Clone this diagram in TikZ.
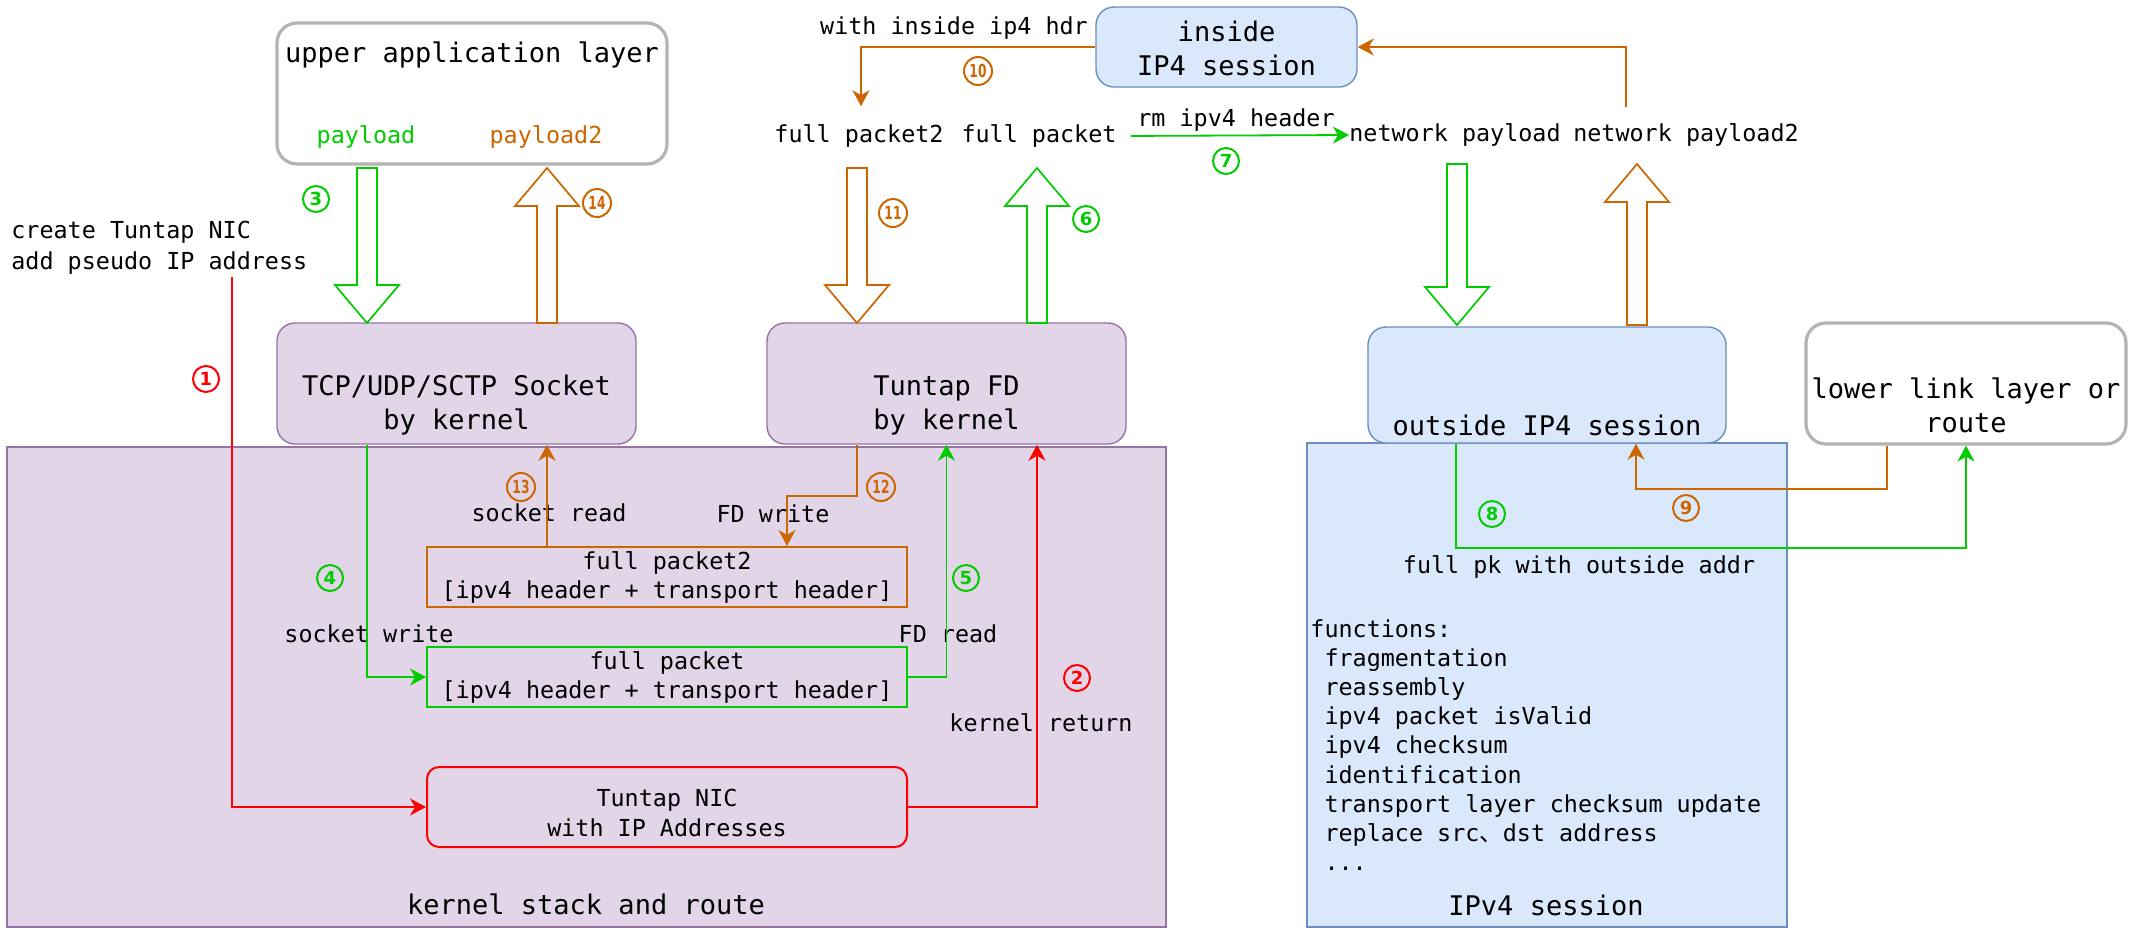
\documentclass[tikz,border=0pt]{standalone}
\usepackage{fontspec}
\usepackage{graphicx}
\usetikzlibrary{arrows.meta,calc}
\setmainfont{DejaVu Sans Mono}
\newfontfamily\cjk{Noto Sans CJK SC}
\newfontfamily\circfont{DejaVu Sans}
\definecolor{cgreen}{HTML}{00CC00}
\definecolor{corange}{HTML}{CC6600}
\definecolor{cred}{HTML}{FF0000}
\definecolor{pfill}{HTML}{E1D5E7}
\definecolor{pline}{HTML}{9673A6}
\definecolor{bfill}{HTML}{DAE8FC}
\definecolor{bline}{HTML}{6C8EBF}
\definecolor{gline}{HTML}{B3B3B3}
\tikzset{
  big/.style={font=\fontsize{13.5}{17}\selectfont},
  small/.style={font=\fontsize{11.7}{14.5}\selectfont},
  txt/.style={inner sep=0pt, align=center},
  pbox/.style={draw=pline, fill=pfill, line width=0.7pt, rounded corners=9pt},
  bbox/.style={draw=bline, fill=bfill, line width=0.7pt, rounded corners=9pt},
  gbox/.style={draw=gline, fill=white, line width=1.6pt, rounded corners=10pt},
  conn/.style={line width=0.9pt, -{Stealth[length=8pt,width=8.5pt,inset=2.5pt]}},
  num/.style={circle, draw, line width=1pt, minimum size=13pt, inner sep=0pt,
    font=\circfont\fontsize{9}{9}\selectfont\bfseries},
  numw/.style={num, minimum size=14pt},
  hollow/.style={line width=0.85pt, fill=white, line join=miter},
}
\newcommand\hdown[4]{%
  \draw[hollow, draw=#4] (#1-10,#2) -- (#1+10,#2) -- (#1+10,#3-38) -- (#1+32,#3-38)
    -- (#1,#3) -- (#1-32,#3-38) -- (#1-10,#3-38) -- cycle;}
\newcommand\hup[4]{%
  \draw[hollow, draw=#4] (#1-10,#2) -- (#1+10,#2) -- (#1+10,#3+38) -- (#1+32,#3+38)
    -- (#1,#3) -- (#1-32,#3+38) -- (#1-10,#3+38) -- cycle;}
\newcommand\twod[1]{\scalebox{0.68}[1]{#1}}
\begin{document}
\begin{tikzpicture}[x=0.5pt,y=-0.5pt]
\useasboundingbox[fill=white] (0,0) rectangle (2136,934);
% containers
\node[pbox, rounded corners=0pt, minimum width=579.5pt, minimum height=240pt] (kern) at (586.5,687) {};
\node[bbox, rounded corners=0pt, minimum width=240pt, minimum height=242pt] (sess) at (1547,685) {};
\node[big, txt] (kerntxt) at (586,904) {kernel stack and route};
\node[big, txt] (sesstxt) at (1546,905) {IPv4 session};
% upper boxes
\node[gbox, minimum width=195pt, minimum height=70.5pt] (app) at (472,93.5) {};
\node[big, txt] (apptitle) at (472,55) {upper application layer};
\node[small, txt, text=cgreen] (pl) at (366,137) {payload};
\node[small, txt, text=corange] (pl2) at (546,137) {payload2};
\node[pbox, minimum width=179.5pt, minimum height=60.5pt] (sock) at (456.5,383.5) {};
\node[big, txt] (socktxt) at (456.5,405) {TCP/UDP/SCTP Socket\\by kernel};
\node[pbox, minimum width=179.5pt, minimum height=60.5pt] (fd) at (946.5,383.5) {};
\node[big, txt] (fdtxt) at (946.5,405) {Tuntap FD\\by kernel};
\node[bbox, minimum width=130.5pt, minimum height=40pt] (inside) at (1226.5,47) {};
\node[big, txt] (insidetxt) at (1226.5,48) {inside\\IP4 session};
\node[bbox, minimum width=179pt, minimum height=58pt] (outside) at (1547,385) {};
\node[big, txt] (outsidetxt) at (1547,425) {outside IP4 session};
\node[gbox, minimum width=160pt, minimum height=60.5pt] (lower) at (1966,383.5) {};
\node[big, txt] (lowertxt) at (1966,405.5) {lower link layer or\\route};
% kernel inner boxes
\node[draw=corange, line width=1pt, minimum width=240pt, minimum height=30pt, small, align=center, inner sep=0pt] (fp2) at (667,577) {full packet2\\{}[ipv4 header + transport header]};
\node[draw=cgreen, line width=1pt, minimum width=240pt, minimum height=30pt, small, align=center, inner sep=0pt] (fp) at (667,677) {full packet\\{}[ipv4 header + transport header]};
\node[draw=cred, line width=1pt, rounded corners=6pt, minimum width=240pt, minimum height=40pt] (nic) at (667,807) {};
\node[small, txt, font=\fontsize{11.7}{15}\selectfont] (nictxt) at (667,813) {Tuntap NIC\\with IP Addresses};
% labels
\node[small, txt, align=left, anchor=west, font=\fontsize{11.7}{15.5}\selectfont] (create) at (11,247.5) {create Tuntap NIC\\add pseudo IP address};
\node[small, txt] (wih) at (954,28) {with inside ip4 hdr};
\node[small, txt] (fp2t) at (859,136) {full packet2};
\node[small, txt] (fpt) at (1039,136) {full packet};
\node[small, txt] (rmh) at (1236,120) {rm ipv4 header};
\node[small, txt] (npt) at (1455,135) {network payload};
\node[small, txt] (np2t) at (1686,135) {network payload2};
\node[small, txt] (sread) at (549,513) {socket read};
\node[small, txt] (fdw) at (773,514) {FD write};
\node[small, txt] (swrite) at (369,634) {socket write};
\node[small, txt] (fdr) at (948,634) {FD read};
\node[small, txt] (kret) at (1041,723) {kernel return};
\node[small, txt] (fpk) at (1579,567) {full pk with outside addr};
\node[txt, align=left, anchor=west, font=\fontsize{11.7}{14.6}\selectfont] (funcs) at (1310,745) {functions:\\
\phantom{x}fragmentation\\
\phantom{x}reassembly\\
\phantom{x}ipv4 packet isValid\\
\phantom{x}ipv4 checksum\\
\phantom{x}identification\\
\phantom{x}transport layer checksum update\\
\phantom{x}replace src{\cjk 、}dst address\\
\phantom{x}...};
% hollow block arrows
\hdown{367}{168}{323}{cgreen}
\hup{547}{323}{168}{corange}
\hdown{857}{168}{323}{corange}
\hup{1037}{323}{168}{cgreen}
\hdown{1457}{164}{325}{cgreen}
\hup{1637}{325}{164}{corange}
% connectors
\coordinate (c1) at (232,277);
\draw[conn, cred] (c1) |- (nic.west);
\coordinate (c2) at ([xshift=45.25pt]fd.south);
\draw[conn, cred] (nic.east) -| (c2);
\coordinate (c4) at ([xshift=-44.75pt]sock.south);
\draw[conn, cgreen] (c4) |- (fp.west);
\draw[conn, cgreen] (fp.east) -| (fd.south);
\coordinate (c13) at ([xshift=-60pt]fp2.north);
\draw[conn, corange] (c13) -- (c13 |- sock.south);
\coordinate (c12a) at ([xshift=-44.75pt]fd.south);
\coordinate (c12b) at ([xshift=60pt]fp2.north);
\draw[conn, corange] (c12a) -- ++(0,51) -| (c12b);
\coordinate (c10) at ([xshift=1pt,yshift=9pt]fp2t.north);
\draw[conn, corange] (inside.west) -| (c10);
\coordinate (c10b) at ([xshift=-30pt,yshift=8pt]np2t.north);
\draw[conn, corange] (c10b) |- (inside.east);
\draw[conn, cgreen, shorten <=7pt] (fpt.east) -- (npt.west);
\coordinate (c8) at ([xshift=-45.5pt]outside.south);
\draw[conn, cgreen] (c8) -- ++(0,104) -| (lower.south);
\coordinate (c9a) at ([xshift=-39.5pt]lower.south);
\coordinate (c9b) at ([xshift=44.5pt]outside.south);
\draw[conn, corange] (c9a) -- ++(0,43) -| (c9b);
% step numbers
\node[num, draw=cred, text=cred] (n1) at (206,379) {1};
\node[num, draw=cred, text=cred] (n2) at (1077,678) {2};
\node[num, draw=cgreen, text=cgreen] (n3) at (316,199) {3};
\node[num, draw=cgreen, text=cgreen] (n4) at (330,578) {4};
\node[num, draw=cgreen, text=cgreen] (n5) at (966,578) {5};
\node[num, draw=cgreen, text=cgreen] (n6) at (1086,219) {6};
\node[num, draw=cgreen, text=cgreen] (n7) at (1226,161) {7};
\node[num, draw=cgreen, text=cgreen] (n8) at (1492,514) {8};
\node[num, draw=corange, text=corange] (n9) at (1686,508) {9};
\node[numw, draw=corange, text=corange] (n10) at (978,71) {\twod{10}};
\node[numw, draw=corange, text=corange] (n11) at (893,213) {\twod{11}};
\node[numw, draw=corange, text=corange] (n12) at (881,487) {\twod{12}};
\node[numw, draw=corange, text=corange] (n13) at (521,487) {\twod{13}};
\node[numw, draw=corange, text=corange] (n14) at (597,203) {\twod{14}};
\end{tikzpicture}
\end{document}
